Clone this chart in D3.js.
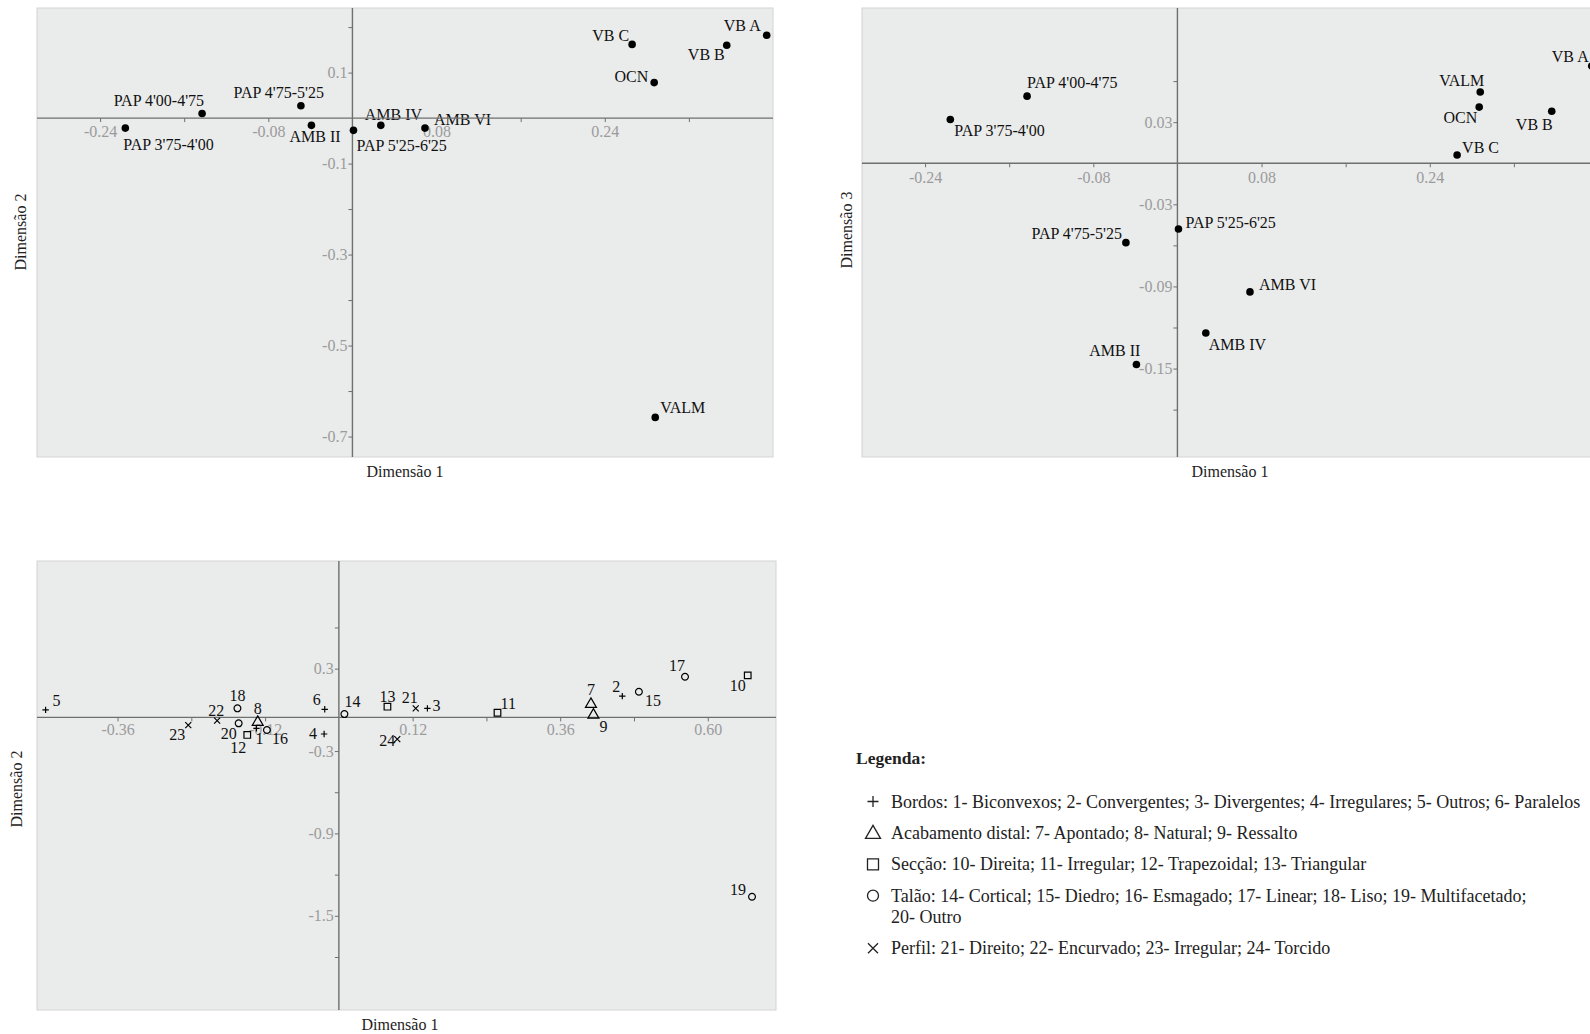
<!DOCTYPE html>
<html>
<head>
<meta charset="utf-8">
<script src="https://cdn.jsdelivr.net/npm/d3@7"></script>
<style>
body { margin: 0; background: #fff; }
svg text { font-family: "Liberation Serif", "Times New Roman", serif; }
</style>
</head>
<body>
<div id="chart"></div>
<script>
var w = 1590,
    h = 1034;

// row points (units), coordinates on dimensions 1-3
var rowNames = ["PAP 3'75-4'00", "PAP 4'00-4'75", "PAP 4'75-5'25", "PAP 5'25-6'25",
    "AMB II", "AMB IV", "AMB VI", "VALM", "OCN", "VB A", "VB B", "VB C"];
var rowDim1 = [-0.216, -0.143, -0.049, 0.001, -0.039, 0.027, 0.069, 0.288, 0.287, 0.394, 0.356, 0.266];
var rowDim2 = [-0.022, 0.010, 0.027, -0.027, -0.016, -0.016, -0.022, -0.658, 0.078, 0.182, 0.160, 0.162];
var rowDim3 = [0.032, 0.049, -0.058, -0.048, -0.147, -0.124, -0.094, 0.052, 0.041, 0.071, 0.038, 0.006];

// column categories 1-24 (attribute modalities)
var catIds = [1, 2, 3, 4, 5, 6, 7, 8, 9, 10, 11, 12, 13, 14, 15, 16, 17, 18, 19, 20, 21, 22, 23, 24];
var catShapes = ["plus", "plus", "plus", "plus", "plus", "plus",
    "triangle", "triangle", "triangle",
    "square", "square", "square", "square",
    "circle", "circle", "circle", "circle", "circle", "circle", "circle",
    "times", "times", "times", "times"];
var catDim1 = [-0.134, 0.461, 0.144, -0.024, -0.477, -0.023, 0.410, -0.132, 0.414, 0.665, 0.258, -0.149,
    0.079, 0.009, 0.488, -0.117, 0.563, -0.165, 0.672, -0.163, 0.125, -0.198, -0.245, 0.095];
var catDim2 = [-0.135, 0.100, 0.011, -0.176, 0.000, 0.004, 0.047, -0.084, -0.031, 0.251, -0.021, -0.183,
    0.023, -0.031, 0.132, -0.147, 0.241, 0.011, -1.361, -0.098, 0.011, -0.079, -0.111, -0.213];

// legend
var legendShapes = ["plus", "triangle", "square", "circle", "times"];
var legendLines = [
    ["Bordos: 1- Biconvexos; 2- Convergentes; 3- Divergentes; 4- Irregulares; 5- Outros; 6- Paralelos"],
    ["Acabamento distal: 7- Apontado; 8- Natural; 9- Ressalto"],
    ["Secção: 10- Direita; 11- Irregular; 12- Trapezoidal; 13- Triangular"],
    ["Talão: 14- Cortical; 15- Diedro; 16- Esmagado; 17- Linear; 18- Liso; 19- Multifacetado;", "20- Outro"],
    ["Perfil: 21- Direito; 22- Encurvado; 23- Irregular; 24- Torcido"]
];

// tick values
var ticksX12 = [-0.24, -0.16, -0.08, 0.08, 0.16, 0.24, 0.32];
var labelsX12 = [-0.24, -0.08, 0.08, 0.24];
var ticksY1 = [0.2, 0.1, -0.1, -0.2, -0.3, -0.4, -0.5, -0.6, -0.7];
var labelsY1 = [0.1, -0.1, -0.3, -0.5, -0.7];
var ticksY2 = [0.06, 0.03, -0.03, -0.06, -0.09, -0.12, -0.15, -0.18];
var labelsY2 = [0.03, -0.03, -0.09, -0.15];
var ticksX3 = [-0.36, -0.24, -0.12, 0.12, 0.24, 0.36, 0.48, 0.60];
var labelsX3 = [-0.36, -0.12, 0.12, 0.36, 0.60];
var ticksY3 = [0.6, 0.3, -0.3, -0.6, -0.9, -1.2, -1.5, -1.8];
var labelsY3 = [0.3, -0.3, -0.9, -1.5];

// label placement: [anchor, dx, dy] relative to the point
var place1 = {
    "PAP 3'75-4'00": ["start", -2, 22], "PAP 4'00-4'75": ["end", 2, -8],
    "PAP 4'75-5'25": ["end", 23, -8], "PAP 5'25-6'25": ["start", 3, 21],
    "AMB II": ["start", -22, 17], "AMB IV": ["start", -16, -5], "AMB VI": ["start", 9, -3],
    "VALM": ["start", 5, -4], "OCN": ["end", -6, -1], "VB A": ["end", -6, -4],
    "VB B": ["end", -2, 15], "VB C": ["end", -3, -3]
};
var place2 = {
    "PAP 3'75-4'00": ["start", 4, 17], "PAP 4'00-4'75": ["start", 0, -8],
    "PAP 4'75-5'25": ["end", -4, -4], "PAP 5'25-6'25": ["start", 7, -1],
    "AMB II": ["end", 4, -8], "AMB IV": ["start", 3, 17], "AMB VI": ["start", 9, -2],
    "VALM": ["end", 4, -6], "OCN": ["end", -2, 16], "VB A": ["end", -3, -4],
    "VB B": ["end", 1, 19], "VB C": ["start", 5, -2]
};
var place3 = {
    1: ["start", -1, 16], 2: ["end", -2, -4], 3: ["start", 5, 3], 4: ["end", -7, 5],
    5: ["start", 7, -4], 6: ["end", -4, -4], 7: ["middle", 0, -8], 8: ["middle", 0, -7],
    9: ["start", 6, 18], 10: ["end", -2, 16], 11: ["start", 3, -4], 12: ["end", -1, 18],
    13: ["middle", 0, -5], 14: ["start", 0, -7], 15: ["start", 6, 14], 16: ["start", 5, 14],
    17: ["end", 0, -6], 18: ["middle", 0, -7], 19: ["end", -6, -2], 20: ["end", -2, 16],
    21: ["end", 2, -5], 22: ["middle", -1, -5], 23: ["end", -3, 15], 24: ["end", -2, 7]
};

var svg = d3.select("#chart").append("svg")
    .attr("width", w)
    .attr("height", h);

function shapePath(kind, r) {
    var p = d3.path();
    if (kind === "plus") {
        p.moveTo(-r, 0); p.lineTo(r, 0); p.moveTo(0, -r); p.lineTo(0, r);
    } else if (kind === "times") {
        p.moveTo(-r, -r); p.lineTo(r, r); p.moveTo(-r, r); p.lineTo(r, -r);
    } else if (kind === "square") {
        p.rect(-r, -r, 2 * r, 2 * r);
    } else if (kind === "circle") {
        p.arc(0, 0, r, 0, 2 * Math.PI);
    } else if (kind === "triangle") {
        var hh = r * Math.sqrt(3) / 2;
        p.moveTo(0, -r); p.lineTo(r, hh * 2 - r); p.lineTo(-r, hh * 2 - r); p.closePath();
    }
    return p.toString();
}

function fmt(labels, n) {
    return function (d) {
        return labels.indexOf(d) >= 0 ? d.toFixed(n) : "";
    };
}

function panel(o) {
    var x = d3.scaleLinear().domain(o.xDomain).range([o.left, o.right]);
    var y = d3.scaleLinear().domain(o.yDomain).range([o.bottom, o.top]);
    var g = svg.append("g");

    g.append("rect")
        .attr("x", o.left)
        .attr("y", o.top)
        .attr("width", o.right - o.left)
        .attr("height", o.bottom - o.top)
        .style("fill", "#eaebeb")
        .style("stroke", "#d4d4d4");

    var yBase = o.xAxisAt === undefined ? 0 : o.xAxisAt;

    var ax = g.append("g")
        .attr("transform", "translate(0," + y(yBase) + ")")
        .call(d3.axisBottom(x).tickValues(o.xTicks).tickSize(4).tickPadding(o.xPad)
            .tickSizeOuter(0).tickFormat(fmt(o.xLabels, o.xDigits)));
    var ay = g.append("g")
        .attr("transform", "translate(" + x(0) + ",0)")
        .call(d3.axisLeft(y).tickValues(o.yTicks).tickSize(4).tickPadding(1)
            .tickSizeOuter(0).tickFormat(fmt(o.yLabels, o.yDigits)));
    [ax, ay].forEach(function (a) {
        a.select(".domain").remove();
        a.selectAll("line").style("stroke", "#6f6f6f");
        a.selectAll("text")
            .style("fill", "#9b9b9b")
            .style("font-size", "16px")
            .style("font-family", "'Liberation Serif', serif");
    });

    // point labels
    g.selectAll("text.lab")
        .data(o.points)
        .enter()
        .append("text")
        .attr("class", "lab")
        .attr("x", function (d) { return x(d.x) + d.place[1]; })
        .attr("y", function (d) { return y(d.y) + d.place[2]; })
        .style("text-anchor", function (d) { return d.place[0]; })
        .style("font-size", "16px")
        .style("fill", "#111")
        .text(function (d) { return d.label; });

    // reference lines
    g.append("line")
        .attr("x1", o.left).attr("x2", o.right)
        .attr("y1", y(yBase)).attr("y2", y(yBase))
        .style("stroke", "#6f6f6f").style("stroke-width", 1.4);
    g.append("line")
        .attr("x1", x(0)).attr("x2", x(0))
        .attr("y1", o.top).attr("y2", o.bottom)
        .style("stroke", "#6f6f6f").style("stroke-width", 1.4);

    // markers
    g.selectAll("path.mark")
        .data(o.points)
        .enter()
        .append("path")
        .attr("class", "mark")
        .attr("transform", function (d) { return "translate(" + x(d.x) + "," + y(d.y) + ")"; })
        .attr("d", function (d) { return shapePath(d.shape, d.r); })
        .style("fill", function (d) { return d.filled ? "#000" : "none"; })
        .style("stroke", "#000")
        .style("stroke-width", function (d) { return d.filled ? 0 : 1.2; });

    g.append("text")
        .attr("x", o.xTitle[0])
        .attr("y", o.xTitle[1])
        .style("text-anchor", "middle")
        .style("font-size", "16px")
        .style("fill", "#222")
        .text("Dimensão 1");
    g.append("text")
        .attr("transform", "translate(" + o.yTitle[0] + "," + o.yTitle[1] + ") rotate(-90)")
        .style("text-anchor", "middle")
        .style("font-size", "16px")
        .style("fill", "#222")
        .text(o.yTitleText);
}

var rows12 = rowNames.map(function (n, i) {
    return { label: n, x: rowDim1[i], y: rowDim2[i], shape: "circle", r: 3.8, filled: true, place: place1[n] };
});
var rows13 = rowNames.map(function (n, i) {
    return { label: n, x: rowDim1[i], y: rowDim3[i], shape: "circle", r: 3.8, filled: true, place: place2[n] };
});
var markSize = { plus: 3.2, times: 3, square: 3.3, circle: 3.4, triangle: 5.5 };
var cats = catIds.map(function (id, i) {
    return { label: String(id), x: catDim1[i], y: catDim2[i], shape: catShapes[i],
        r: markSize[catShapes[i]], filled: false, place: place3[id] };
});

panel({
    left: 37, right: 773, top: 8, bottom: 457,
    xDomain: [-0.30, 0.40], yDomain: [-0.745, 0.242],
    xTicks: ticksX12, xLabels: labelsX12, xDigits: 2, xPad: 4,
    yTicks: ticksY1, yLabels: labelsY1, yDigits: 1,
    points: rows12, xTitle: [405, 477], yTitle: [26, 232], yTitleText: "Dimensão 2"
});

panel({
    left: 862, right: 1598, top: 8, bottom: 457,
    xDomain: [-0.30, 0.40], yDomain: [-0.2146, 0.1134],
    xTicks: ticksX12, xLabels: labelsX12, xDigits: 2, xPad: 4,
    yTicks: ticksY2, yLabels: labelsY2, yDigits: 2,
    points: rows13, xTitle: [1230, 477], yTitle: [852, 230], yTitleText: "Dimensão 3"
});

// the horizontal reference line of this panel sits a little below the 0 of its tick scale
panel({
    left: 37, right: 776, top: 561, bottom: 1010,
    xDomain: [-0.491, 0.711], yDomain: [-2.186, 1.084], xAxisAt: -0.055,
    xTicks: ticksX3, xLabels: labelsX3, xDigits: 2, xPad: 2,
    yTicks: ticksY3, yLabels: labelsY3, yDigits: 1,
    points: cats, xTitle: [400, 1030], yTitle: [22, 789], yTitleText: "Dimensão 2"
});

// legend
var lg = svg.append("g");
lg.append("text")
    .attr("x", 856)
    .attr("y", 764)
    .style("font-size", "17.5px")
    .style("font-weight", "bold")
    .style("fill", "#222")
    .text("Legenda:");

var cursor = 807.5;
legendLines.forEach(function (lines, i) {
    var sz = { plus: 5.5, times: 5, square: 5.5, circle: 5.5, triangle: 7.5 }[legendShapes[i]];
    lg.append("path")
        .attr("transform", "translate(873," + (cursor - 6) + ")")
        .attr("d", shapePath(legendShapes[i], sz))
        .style("fill", "none")
        .style("stroke", "#222")
        .style("stroke-width", 1.3);
    lines.forEach(function (t, j) {
        lg.append("text")
            .attr("x", 891)
            .attr("y", cursor + j * 21.2)
            .style("font-size", "18px")
            .style("fill", "#222")
            .text(t);
    });
    cursor += (lines.length - 1) * 21.2 + 31.4;
});
</script>
</body>
</html>
